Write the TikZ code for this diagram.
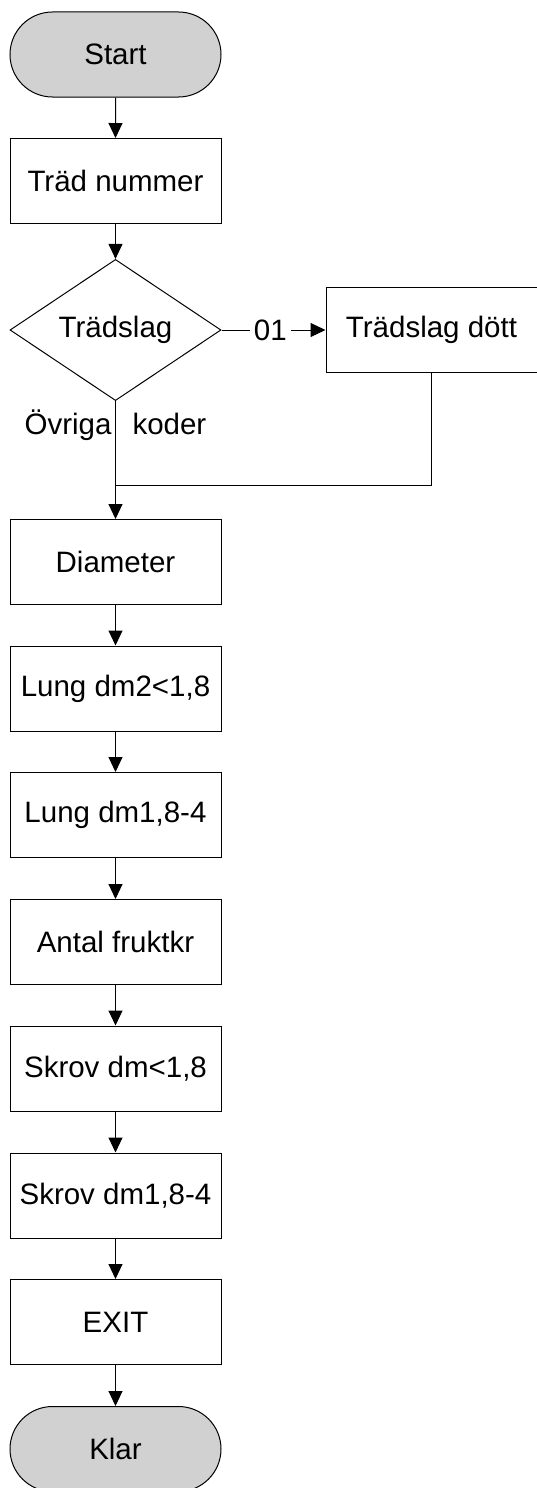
\documentclass[tikz,border=0pt]{standalone}
\usepackage{fontspec}
\setmainfont{Liberation Sans}
\usetikzlibrary{shapes,arrows.meta,positioning}
\tikzstyle{process} = [rectangle, draw, line width=1pt, minimum width=211pt, minimum height=85pt, inner sep=0pt]
\tikzstyle{term} = [rounded rectangle, draw, fill=black!18, line width=1pt, minimum width=211pt, minimum height=85pt, inner sep=0pt]
\tikzstyle{decision} = [diamond, draw, line width=1pt, minimum width=211pt, minimum height=127pt, inner sep=0pt]
\tikzstyle{arrow} = [-{Triangle[length=15pt,width=14pt]}, line width=1pt]
\tikzstyle{link} = [line width=1pt]

\begin{document}
\begin{tikzpicture}[x=1pt, y=-1pt, font=\fontsize{29.5}{35}\selectfont]
    \useasboundingbox (0,0) rectangle (536,1488);

    % Start
    \node[term] (start) at (115.5,54.5) {Start};
    \node[process] (nr) at (115.5,181) {Träd nummer};

    % Decision on tree species
    \node[decision] (slag) at (115.5,330) {Trädslag};
    \node[process] (dead) at (431.5,330) {Trädslag dött};
    \coordinate (join) at (115.5,485);

    % Measurements
    \node[process] (diam) at (115.5,562) {Diameter};
    \node[process] (lung1) at (115.5,688.5) {Lung dm2<1,8};
    \node[process] (lung2) at (115.5,815) {Lung dm1,8-4};
    \node[process] (frukt) at (115.5,942) {Antal fruktkr};
    \node[process] (skrov1) at (115.5,1068.5) {Skrov dm<1,8};
    \node[process] (skrov2) at (115.5,1195.5) {Skrov dm1,8-4};
    \node[process] (exit) at (115.5,1322) {EXIT};

    % End
    \node[term] (klar) at (115.5,1449) {Klar};

    % Connections
    \draw[arrow] (start) -- (nr);
    \draw[arrow] (nr) -- (slag);
    \draw[arrow] (slag.east) -- node[fill=white, inner xsep=4pt, inner ysep=0pt, pos=0.47] {01} (dead.west);
    \draw[link] (slag.south) -- node[pos=0.29] {Övriga\hspace{21pt}koder} (join);
    \draw[link] (dead.south) |- (join);
    \draw[arrow] (join) -- (diam);
    \foreach \a/\b in {diam/lung1, lung1/lung2, lung2/frukt, frukt/skrov1, skrov1/skrov2, skrov2/exit, exit/klar}
        \draw[arrow] (\a) -- (\b);
\end{tikzpicture}
\end{document}
